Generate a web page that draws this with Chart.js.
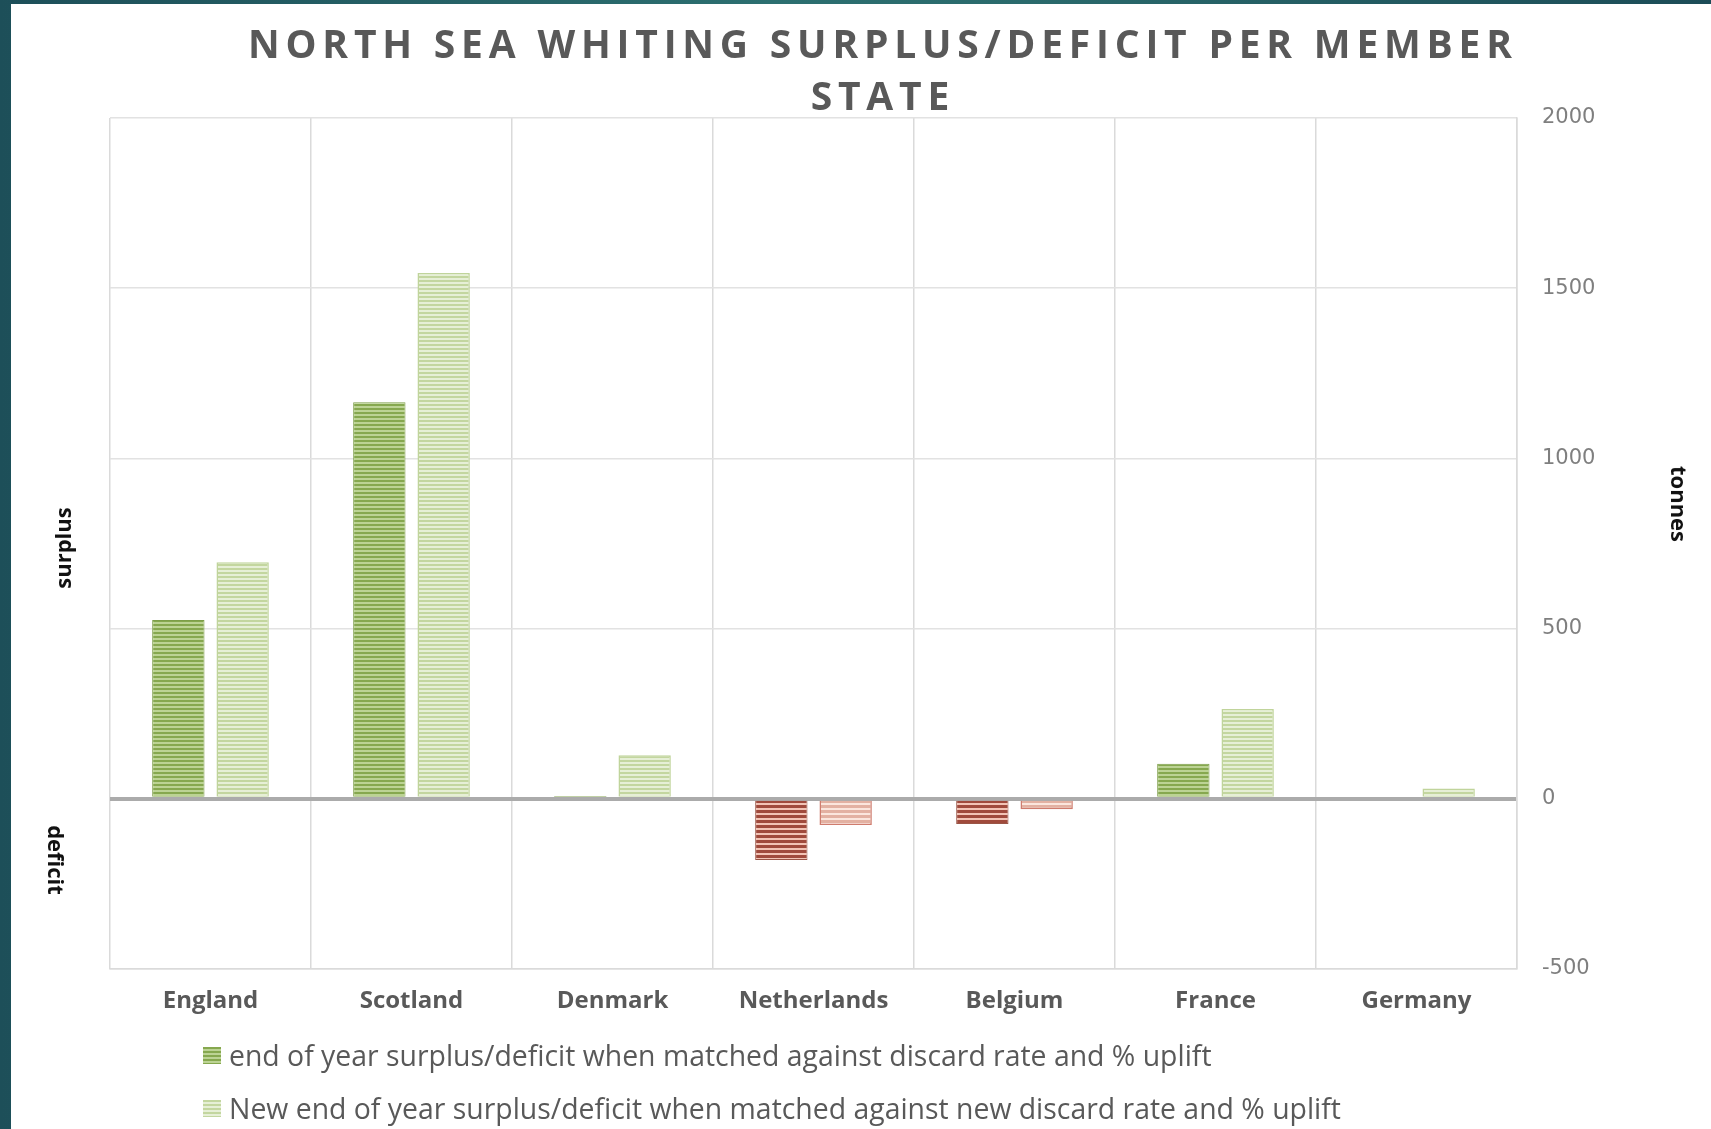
<!DOCTYPE html>
<html>
<head>
<meta charset="utf-8">
<script src="https://cdn.jsdelivr.net/npm/chart.js@4.4.1/dist/chart.umd.min.js"></script>
<style>
  html, body { margin:0; padding:0; }
  body { width:1711px; height:1129px; overflow:hidden; position:relative;
         background:linear-gradient(90deg,#1d4f59 0%,#2c6f70 45%,#2a6a6c 60%,#1c4c57 100%); }
  .panel { position:absolute; left:11px; top:4px; width:1700px; height:1125px; background:#fff; }
  .wrap { position:absolute; left:0; top:0; width:1711px; height:1129px; }
  .title { position:absolute; left:0; top:17px; width:1760px; text-align:center;
           font:700 39px "Open Sans", sans-serif; letter-spacing:5.8px; padding-left:5.8px; box-sizing:border-box;
           line-height:52px; color:#595959; }
  .side { position:absolute; font:700 22px "Open Sans", sans-serif; color:#111; white-space:nowrap; }
  .legend { position:absolute; left:203px; font:400 28.4px "Open Sans", sans-serif; color:#595959; white-space:nowrap;
            display:flex; align-items:center; }
  .sw { width:18px; height:17px; margin-right:8px; }
  .sw1 { background:repeating-linear-gradient(180deg,#86a84f 0 2px,#bcd394 2px 4px); }
  .sw2 { background:repeating-linear-gradient(180deg,#c3d69f 0 2px,#e6efd6 2px 4px); }
</style>
</head>
<body>
<div class="panel"></div>
<div class="wrap"><canvas id="c"></canvas></div>
<div class="title">NORTH SEA WHITING SURPLUS/DEFICIT PER MEMBER<br>STATE</div>
<div class="side" style="left:62px;top:548px;transform:translate(-50%,-50%) rotate(-90deg)">surplus</div>
<div class="side" style="left:57px;top:860px;transform:translate(-50%,-50%) rotate(90deg)">deficit</div>
<div class="side" style="left:1680px;top:504px;transform:translate(-50%,-50%) rotate(90deg)">tonnes</div>
<div class="legend" style="top:1036px"><div class="sw sw1"></div>end of year surplus/deficit when matched against discard rate and % uplift</div>
<div class="legend" style="top:1089px"><div class="sw sw2"></div>New end of year surplus/deficit when matched against new discard rate and % uplift</div>
<script>
// member states and tonnes
const states = ['England', 'Scotland', 'Denmark', 'Netherlands', 'Belgium', 'France', 'Germany'];
const oldSurplus = [525, 1165, 8, -180, -74, 103, 0];
const newSurplus = [695, 1545, 128, -77, -31, 264, 30];
const seriesNames = [
  'end of year surplus/deficit when matched against discard rate and % uplift',
  'New end of year surplus/deficit when matched against new discard rate and % uplift'
];
const yMin = -500, yMax = 2000, yStep = 500;

const cv = document.getElementById('c');
const g = cv.getContext('2d');

// horizontal stripe fill like the Excel pattern
function stripes(c1, c2, h1, h2) {
  const p = document.createElement('canvas');
  p.width = 8; p.height = h1 + h2;
  const x = p.getContext('2d');
  x.fillStyle = c2; x.fillRect(0, 0, 8, h1 + h2);
  x.fillStyle = c1; x.fillRect(0, 0, 8, h1);
  return g.createPattern(p, 'repeat');
}
const FILL = {
  darkPos: stripes('#86a84f', '#bcd394', 2, 2),
  lightPos: stripes('#c3d69f', '#e6efd6', 2, 2),
  darkNeg: stripes('#a04a3c', '#f2c3b5', 3, 2),
  lightNeg: stripes('#e3b1a2', '#fbe6dd', 3, 2)
};
const EDGE = { darkPos:'#7d9e49', lightPos:'#c0d49b', darkNeg:'#9a5546', lightNeg:'#cf7c6e' };

const pick = (kind, map) => ctx => (ctx.raw < 0 ? map[kind + 'Neg'] : map[kind + 'Pos']);

new Chart(cv, {
  type: 'bar',
  data: {
    labels: states,
    datasets: [
      { label: seriesNames[0], data: oldSurplus, backgroundColor: pick('dark', FILL), borderColor: pick('dark', EDGE), borderWidth: 1 },
      { label: seriesNames[1], data: newSurplus, backgroundColor: pick('light', FILL), borderColor: pick('light', EDGE), borderWidth: 1.5 }
    ]
  },
  options: {
    responsive: true, maintainAspectRatio: false, animation: false,
    categoryPercentage: 0.64, barPercentage: 0.814,
    layout: { padding: { left: 110, top: 118, right: 104, bottom: 110 } },
    plugins: { legend: { display: false }, title: { display: false }, tooltip: { enabled: false } },
    scales: {
      x: {
        grid: { offset: true, color: '#dadada', lineWidth: 1.5, drawTicks: false },
        border: { display: true, color: '#dadada', width: 1.5 },
        ticks: { color: '#595959', padding: 18, font: { family: 'Open Sans', weight: 'bold', size: 24 } },
        afterFit: s => { s.height = 50; }
      },
      y: {
        position: 'right', min: yMin, max: yMax,
        grid: {
          drawTicks: false,
          color: c => (c.tick && c.tick.value === 0 ? '#ababab' : '#e2e2e2'),
          lineWidth: c => (c.tick && c.tick.value === 0 ? 4 : 1.5)
        },
        border: { display: true, color: '#dadada', width: 1.5 },
        ticks: { stepSize: yStep, color: '#7f7f7f', padding: 25, font: { family: 'DejaVu Sans', size: 21 },
                 callback: v => String(v) },
        afterFit: s => { s.width = 90; }
      }
    }
  }
});
</script>
</body>
</html>
